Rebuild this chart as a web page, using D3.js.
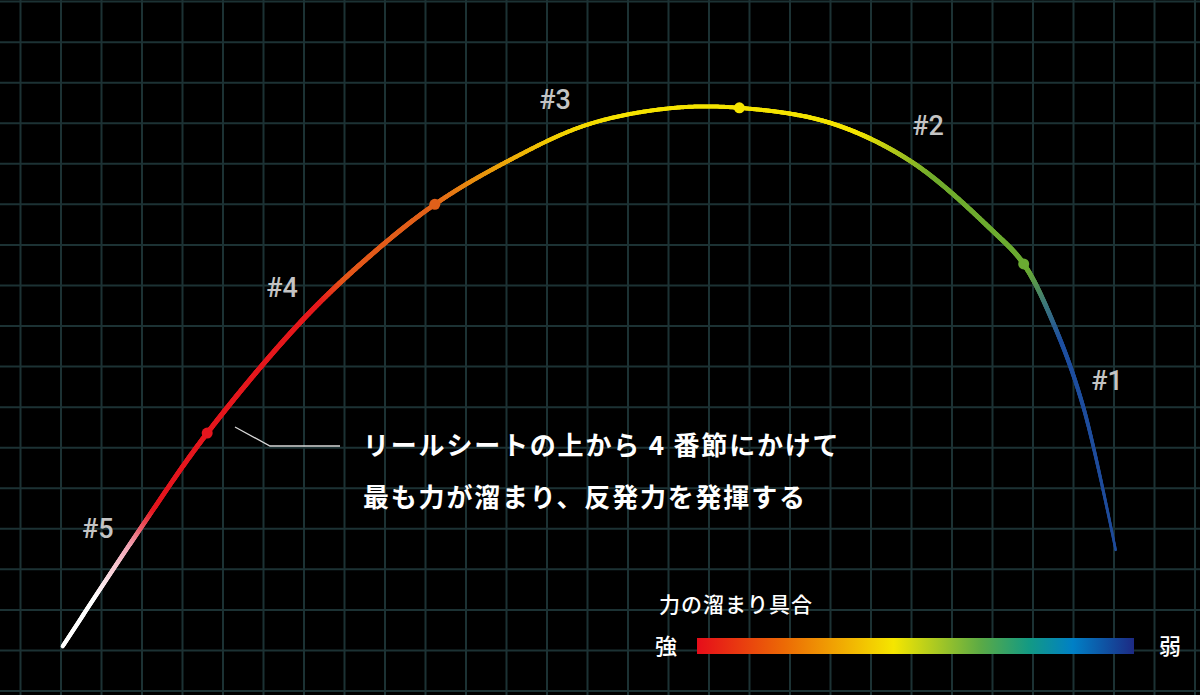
<!DOCTYPE html>
<html><head><meta charset="utf-8">
<script src="https://cdn.jsdelivr.net/npm/d3@7"></script>
<style>html,body{margin:0;padding:0;background:#000;}svg{display:block;}</style>
</head><body>
<svg id="chart" width="1200" height="695"></svg>
<script>
// ---- data (grid units: x = columns from left, y = rows above bottom) ----
const curveX = [1.04,2.95,4.61,6.90,8.56,10.23,12.00,13.98,16.04,17.75,19.99,22.00,24.02,24.77,25.54,26.24,27.04];
const curveY = [1.10,3.99,6.36,9.08,10.67,12.00,13.05,13.96,14.37,14.38,14.01,13.05,11.33,10.53,8.98,7.01,3.48];
const nodeX = [4.61,10.23,17.75,24.77];
const nodeY = [6.36,12.00,14.38,10.53];
const nodeColors = ["#e5161e","#e0601a","#f7e600","#6aaa32"];
const sectionNames = ["#5","#4","#3","#2","#1"];
const sectionX = [1.91,6.46,13.20,22.41,26.83];
const sectionY = [3.77,9.71,14.35,13.71,7.42];
const colorStopX = [1.04,1.84,2.70,3.30,7.40,8.00,10.20,11.10,13.30,14.80,20.70,21.70,22.50,24.90,25.30,25.70,27.04];
const colorStopC = ["#ffffff","#ffffff","#f2a4b4","#e5161e","#e5191c","#e4561a","#e2631a","#e88a10","#f2d000","#f6e400","#f4e400","#a9c41c","#72ac2c","#6aaa32","#3f7a78","#1e4fa0","#1f4b9a"];
const widthStopX = [1.04,3.0,4.6,8.0,10.2,13.0,17.75,21.0,24.8,25.5,26.2,27.04];
const widthStopW = [4,4.5,5,5,4.5,4,4,4.5,5,4.5,4,2.5];
const annotationLines = ["リールシートの上から 4 番節にかけて","最も力が溜まり、反発力を発揮する"];
const legendTitle = "力の溜まり具合";
const legendLeft = "強", legendRight = "弱";
const legendOffsets = [0,0.2,0.45,0.65,0.76,0.86,1];
const legendColors = ["#e60d1a","#ec6a05","#f5e600","#5aaa46","#139a84","#0080c6","#1d2a84"];

const svg = d3.select("#chart");
const W = 1200, H = 695;
svg.append("rect").attr("width",W).attr("height",H).attr("fill","#000");

const x = d3.scaleLinear().domain([0,29]).range([20.5,1195]);
const y = d3.scaleLinear().domain([0,17]).range([691,1.6]);

// grid
const g = svg.append("g").attr("stroke","#1c3234").attr("stroke-width",2);
g.selectAll("line.v").data(d3.range(0,30)).join("line").attr("class","v")
  .attr("x1",d=>x(d)).attr("x2",d=>x(d)).attr("y1",0).attr("y2",H);
g.selectAll("line.h").data(d3.range(0,18)).join("line").attr("class","h")
  .attr("y1",d=>y(d)).attr("y2",d=>y(d)).attr("x1",0).attr("x2",W);

// curve
const pts = curveX.map((v,i)=>[v,curveY[i]]);
const lineGen = d3.line().x(d=>x(d[0])).y(d=>y(d[1])).curve(d3.curveCatmullRom.alpha(0.5));
const tmp = svg.append("path").attr("d",lineGen(pts)).attr("fill","none").attr("stroke","none");
const node = tmp.node();
const L = node.getTotalLength();
const colorScale = d3.scaleLinear().domain(colorStopX).range(colorStopC).interpolate(d3.interpolateRgb).clamp(true);
const widthScale = d3.scaleLinear().domain(widthStopX).range(widthStopW).clamp(true);
const step = 1.2;
const samples = d3.range(0, L, step).concat([L]).map(l=>node.getPointAtLength(l));
const segs = [];
for(let i=0;i<samples.length-1;i++) segs.push([samples[i],samples[i+1]]);
const cg = svg.append("g").attr("fill","none").attr("stroke-linecap","round");
cg.selectAll("line").data(segs).join("line")
  .attr("x1",d=>d[0].x).attr("y1",d=>d[0].y).attr("x2",d=>d[1].x).attr("y2",d=>d[1].y)
  .attr("stroke",d=>colorScale(x.invert((d[0].x+d[1].x)/2)))
  .attr("stroke-width",d=>widthScale(x.invert((d[0].x+d[1].x)/2)));
tmp.remove();

// nodes
svg.selectAll("circle.node").data(nodeX).join("circle").attr("class","node")
  .attr("cx",d=>x(d)).attr("cy",(d,i)=>y(nodeY[i])).attr("r",5.5).attr("fill",(d,i)=>nodeColors[i]);

// section labels
svg.selectAll("text.sec").data(sectionNames).join("text").attr("class","sec")
  .attr("x",(d,i)=>x(sectionX[i])).attr("y",(d,i)=>y(sectionY[i]))
  .attr("text-anchor","middle").attr("font-family","Roboto, 'Noto Sans', sans-serif")
  .attr("font-weight",500).attr("font-size",27).attr("fill","#c4c4c4").text(d=>d);

// annotation leader
svg.append("polyline").attr("points","235,427 270,446 340,446")
  .attr("fill","none").attr("stroke","#d8d8d8").attr("stroke-width",1.3);
svg.selectAll("text.ann").data(annotationLines).join("text").attr("class","ann")
  .attr("x",363).attr("y",(d,i)=>455+i*52)
  .attr("font-family","'Noto Sans CJK JP', sans-serif").attr("font-weight",700)
  .attr("font-size",26).attr("letter-spacing",1.8).attr("fill","#ffffff").text(d=>d);

// legend
const defs = svg.append("defs");
const lg = defs.append("linearGradient").attr("id","lg").attr("x1","0%").attr("x2","100%");
lg.selectAll("stop").data(legendOffsets).join("stop")
  .attr("offset",d=>d*100+"%").attr("stop-color",(d,i)=>legendColors[i]);
svg.append("rect").attr("x",697).attr("y",638).attr("width",437).attr("height",16).attr("fill","url(#lg)");
svg.append("text").attr("x",659).attr("y",612).attr("font-family","'Noto Sans CJK JP', sans-serif")
  .attr("font-weight",500).attr("font-size",21).attr("letter-spacing",1).attr("fill","#fff").text(legendTitle);
svg.append("text").attr("x",666).attr("y",654).attr("text-anchor","middle").attr("font-family","'Noto Sans CJK JP', sans-serif")
  .attr("font-weight",500).attr("font-size",22).attr("fill","#fff").text(legendLeft);
svg.append("text").attr("x",1170).attr("y",654).attr("text-anchor","middle").attr("font-family","'Noto Sans CJK JP', sans-serif")
  .attr("font-weight",500).attr("font-size",22).attr("fill","#fff").text(legendRight);
</script>
</body></html>
